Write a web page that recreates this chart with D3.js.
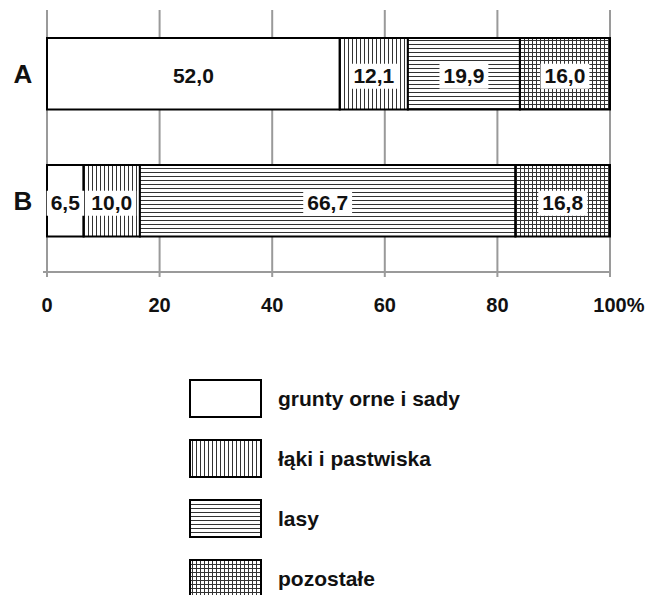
<!DOCTYPE html>
<html>
<head>
<meta charset="utf-8">
<script src="https://cdn.jsdelivr.net/npm/d3@7"></script>
<style>
  html, body { margin: 0; padding: 0; background: #fff; }
  svg { display: block; font-family: "Liberation Sans", Arial, sans-serif; }
</style>
</head>
<body>
<svg id="chart" width="648" height="595"></svg>
<script>
// ---- data ----
const regions = ["A", "B"];
const categories = ["grunty orne i sady", "łąki i pastwiska", "lasy", "pozostałe"];
const valuesA = [52.0, 12.1, 19.9, 16.0];
const valuesB = [6.5, 10.0, 66.7, 16.8];
const tickValues = [0, 20, 40, 60, 80, 100];
const tickLabels = ["0", "20", "40", "60", "80", "100"];
const tickSuffix = "%";
const patterns = ["none", "vert", "horiz", "grid"];

const svg = d3.select("#chart");
const defs = svg.append("defs");

function makePattern(id, kind) {
  const p = defs.append("pattern").attr("id", id)
    .attr("patternUnits", "userSpaceOnUse").attr("width", 4).attr("height", 4);
  p.append("rect").attr("width", 4).attr("height", 4).attr("fill", "#fff");
  if (kind === "vert" || kind === "grid")
    p.append("line").attr("x1", 0.5).attr("x2", 0.5).attr("y1", 0).attr("y2", 4)
      .attr("stroke", "#333").attr("stroke-width", 1);
  if (kind === "horiz" || kind === "grid")
    p.append("line").attr("y1", 0.5).attr("y2", 0.5).attr("x1", 0).attr("x2", 4)
      .attr("stroke", "#333").attr("stroke-width", 1);
}
makePattern("p-vert", "vert");
makePattern("p-horiz", "horiz");
makePattern("p-grid", "grid");
const fillFor = k => k === "none" ? "#fff" : `url(#p-${k})`;

const x = d3.scaleLinear().domain([0, 100]).range([47, 610]);
const y = d3.scaleBand().domain(regions).range([38, 236.5]).paddingInner(0.437).paddingOuter(0);

const axisY = 272;

// grid lines + ticks
svg.append("g").selectAll("line").data(tickValues).join("line")
  .attr("x1", d => x(d)).attr("x2", d => x(d))
  .attr("y1", 10).attr("y2", axisY + 5)
  .attr("stroke", "#9a9a9a").attr("stroke-width", 2);
svg.append("line").attr("x1", x(0) - 4).attr("x2", x(100))
  .attr("y1", axisY).attr("y2", axisY)
  .attr("stroke", "#9a9a9a").attr("stroke-width", 2);

// tick labels
const tl = svg.append("g").attr("font-size", 20).attr("font-weight", "bold").attr("fill", "#111");
tickValues.forEach((v, i) => {
  const isLast = i === tickValues.length - 1;
  const t = tl.append("text").attr("y", 312).text(tickLabels[i]);
  if (!isLast) {
    t.attr("x", x(v)).attr("text-anchor", "middle");
  } else {
    const w = t.node().getComputedTextLength();
    t.attr("x", x(v) - w / 2).attr("text-anchor", "start");
    t.append("tspan").text(tickSuffix);
  }
});

// bars
const rows = [valuesA, valuesB];
regions.forEach((r, ri) => {
  const vals = rows[ri];
  const stack = [];
  let acc = 0;
  vals.forEach((v, ci) => { stack.push({ x0: acc, x1: acc + v, v, ci }); acc += v; });
  const g = svg.append("g");
  g.selectAll("rect").data(stack).join("rect")
    .attr("x", d => x(d.x0)).attr("width", d => x(d.x1) - x(d.x0))
    .attr("y", y(r)).attr("height", y.bandwidth())
    .attr("fill", d => fillFor(patterns[d.ci]))
    .attr("stroke", "#000").attr("stroke-width", 2);
  // value labels with white background
  stack.forEach(d => {
    const cx = (x(d.x0) + x(d.x1)) / 2;
    const cy = y(r) + y.bandwidth() / 2;
    const lg = g.append("g");
    const bg = lg.append("rect").attr("fill", "#fff");
    const t = lg.append("text").attr("x", cx).attr("y", cy + 9)
      .attr("text-anchor", "middle").attr("font-size", 21).attr("font-weight", "bold")
      .attr("fill", "#111").text(d3.format(".1f")(d.v).replace(".", ","));
    const bb = t.node().getBBox();
    bg.attr("x", bb.x - 4).attr("y", bb.y).attr("width", bb.width + 8).attr("height", bb.height + 2);
  });
  // row label
  svg.append("text").attr("x", 23).attr("y", y(r) + y.bandwidth() / 2 + 9)
    .attr("text-anchor", "middle").attr("font-size", 26).attr("font-weight", "bold")
    .attr("fill", "#111").text(r);
});

// legend
const leg = svg.append("g");
categories.forEach((c, i) => {
  const top = 380 + i * 60;
  leg.append("rect").attr("x", 190).attr("y", top).attr("width", 71).attr("height", 37)
    .attr("fill", fillFor(patterns[i])).attr("stroke", "#000").attr("stroke-width", 2);
  leg.append("text").attr("x", 278).attr("y", top + 26)
    .attr("font-size", 21).attr("font-weight", "bold").attr("fill", "#111").text(c);
});
</script>
</body>
</html>
